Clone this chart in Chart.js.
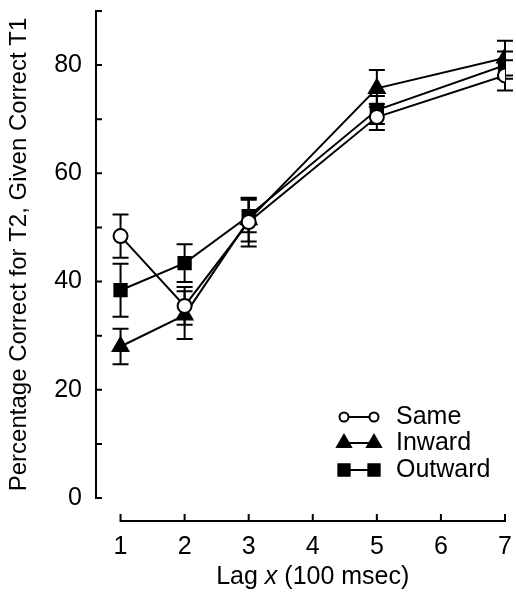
<!DOCTYPE html>
<html lang="en">
<head>
    <meta charset="UTF-8">
    <title>Percentage Correct for T2 by Lag</title>
    <script src="https://cdn.jsdelivr.net/npm/chart.js"></script>
    <style>
        html, body { margin: 0; padding: 0; background: #fff; }
        #wrap { width: 516px; height: 596px; }
    </style>
</head>
<body>
    <div id="wrap"><canvas id="myChart" width="516" height="596"></canvas></div>
    <script>
        // data
        const lags = [1, 2, 3, 5, 7];
        const sameVals = [48.4, 35.5, 51.0, 70.4, 78.1];
        const sameErr = [4.0, 3.5, 4.5, 2.4, 2.8];
        const inwardVals = [28.0, 33.8, 51.4, 75.7, 81.3];
        const inwardErr = [3.3, 4.4, 4.0, 3.4, 3.2];
        const outwardVals = [38.4, 43.4, 52.1, 71.7, 80.0];
        const outwardErr = [4.9, 3.5, 3.0, 2.6, 2.5];
        const seriesNames = ['Same', 'Inward', 'Outward'];

        const xTicks = [1, 2, 3, 4, 5, 6, 7];
        const yTicks = [0, 20, 40, 60, 80];
        const yMinorTicks = [0, 10, 20, 30, 40, 50, 60, 70, 80, 90];
        const yTop = 90;

        const FONT = '"Liberation Sans", Arial, Helvetica, sans-serif';
        const FSIZE = 25;

        function pts(vals) {
            return vals.map((v, i) => ({ x: lags[i], y: v }));
        }

        function ds(label, vals, errs, style, radius, fill) {
            return {
                label: label,
                data: pts(vals),
                errors: errs,
                borderColor: '#000',
                borderWidth: 2,
                pointStyle: style,
                pointRadius: radius,
                pointHoverRadius: radius,
                pointBackgroundColor: fill,
                pointBorderColor: '#000',
                pointBorderWidth: 2,
                tension: 0
            };
        }

        function noPad(s) {
            s.paddingLeft = 0; s.paddingRight = 0;
            s.paddingTop = 0; s.paddingBottom = 0;
        }

        // error bars, under the lines
        const errorBars = {
            id: 'errorBars',
            beforeDatasetsDraw(chart) {
                const ctx = chart.ctx;
                const xs = chart.scales.x, ys = chart.scales.y;
                ctx.save();
                ctx.strokeStyle = '#000';
                ctx.lineWidth = 2;
                chart.data.datasets.forEach(d => {
                    d.data.forEach((p, i) => {
                        const x = xs.getPixelForValue(p.x);
                        const hi = ys.getPixelForValue(p.y + d.errors[i]);
                        const lo = ys.getPixelForValue(p.y - d.errors[i]);
                        ctx.beginPath();
                        ctx.moveTo(x, hi); ctx.lineTo(x, lo);
                        ctx.moveTo(x - 8, hi); ctx.lineTo(x + 8, hi);
                        ctx.moveTo(x - 8, lo); ctx.lineTo(x + 8, lo);
                        ctx.stroke();
                    });
                });
                ctx.restore();
            }
        };

        // detached axes with inward ticks, titles and legend
        const frame = {
            id: 'frame',
            afterDraw(chart) {
                const ctx = chart.ctx;
                const xs = chart.scales.x, ys = chart.scales.y;
                const ax = chart.chartArea.left;
                const ay = chart.chartArea.bottom;
                ctx.save();
                ctx.strokeStyle = '#000';
                ctx.lineWidth = 2;
                ctx.lineCap = 'square';

                // y axis
                ctx.beginPath();
                ctx.moveTo(ax, ys.getPixelForValue(yTop));
                ctx.lineTo(ax, ys.getPixelForValue(0));
                yMinorTicks.forEach(v => {
                    const y = ys.getPixelForValue(v);
                    ctx.moveTo(ax, y); ctx.lineTo(ax + 5, y);
                });
                ctx.stroke();

                // x axis
                const x0 = xs.getPixelForValue(xTicks[0]);
                const x1 = xs.getPixelForValue(xTicks[xTicks.length - 1]);
                ctx.beginPath();
                ctx.moveTo(x0, ay); ctx.lineTo(x1, ay);
                xTicks.forEach(v => {
                    const x = xs.getPixelForValue(v);
                    ctx.moveTo(x, ay); ctx.lineTo(x, ay - 6);
                });
                ctx.stroke();

                ctx.fillStyle = '#000';
                ctx.textBaseline = 'middle';

                // x title with italic x
                const parts = [['Lag ', ''], ['x', 'italic '], [' (100 msec)', '']];
                let total = 0;
                parts.forEach(p => { ctx.font = p[1] + FSIZE + 'px ' + FONT; total += ctx.measureText(p[0]).width; });
                let tx = (x0 + x1) / 2 - total / 2;
                ctx.textAlign = 'left';
                parts.forEach(p => {
                    ctx.font = p[1] + FSIZE + 'px ' + FONT;
                    ctx.fillText(p[0], tx, 577);
                    tx += ctx.measureText(p[0]).width;
                });

                // y title
                ctx.save();
                ctx.translate(19, (ys.getPixelForValue(0) + ys.getPixelForValue(yTop)) / 2);
                ctx.rotate(-Math.PI / 2);
                ctx.textAlign = 'center';
                ctx.font = '24px ' + FONT;
                ctx.fillText('Percentage Correct for T2, Given Correct T1', 0, 0);
                ctx.restore();

                // legend
                const rows = [417, 443, 470];
                const legR = [4.5, 8, 8];
                chart.data.datasets.forEach((d, i) => {
                    const y = rows[i];
                    ctx.beginPath();
                    ctx.moveTo(344, y); ctx.lineTo(374, y);
                    ctx.stroke();
                    [344, 374].forEach(x => {
                        ctx.fillStyle = d.pointBackgroundColor;
                        ctx.strokeStyle = '#000';
                        Chart.helpers.drawPoint(ctx, {
                            pointStyle: d.pointStyle, radius: legR[i], rotation: 0, borderWidth: 2
                        }, x, y);
                    });
                    ctx.fillStyle = '#000';
                    ctx.font = FSIZE + 'px ' + FONT;
                    ctx.textAlign = 'left';
                    ctx.fillText(d.label, 396, y);
                });
                ctx.restore();
            }
        };

        document.addEventListener('DOMContentLoaded', () => {
            const ctx = document.getElementById('myChart').getContext('2d');
            new Chart(ctx, {
                type: 'line',
                data: {
                    datasets: [
                        ds(seriesNames[0], sameVals, sameErr, 'circle', 7, '#fff'),
                        ds(seriesNames[1], inwardVals, inwardErr, 'triangle', 9, '#000'),
                        ds(seriesNames[2], outwardVals, outwardErr, 'rect', 8.7, '#000')
                    ]
                },
                options: {
                    responsive: false,
                    animation: false,
                    events: [],
                    layout: { padding: { left: 0, right: 8, top: 11, bottom: 0 } },
                    plugins: { legend: { display: false }, tooltip: { enabled: false } },
                    scales: {
                        x: {
                            type: 'linear',
                            min: 0.617,
                            max: 7,
                            afterBuildTicks: s => { s.ticks = xTicks.map(v => ({ value: v })); },
                            afterFit: s => { s.height = 75; noPad(s); },
                            grid: { display: false, drawTicks: false },
                            border: { display: false },
                            ticks: {
                                color: '#000',
                                padding: 11,
                                maxRotation: 0,
                                font: { family: FONT, size: FSIZE }
                            }
                        },
                        y: {
                            min: -4.25,
                            max: yTop,
                            afterBuildTicks: s => { s.ticks = yTicks.map(v => ({ value: v })); },
                            afterFit: s => { s.width = 96; noPad(s); },
                            grid: { display: false, drawTicks: false },
                            border: { display: false },
                            ticks: {
                                color: '#000',
                                padding: 14,
                                font: { family: FONT, size: FSIZE }
                            }
                        }
                    }
                },
                plugins: [errorBars, frame]
            });
        });
    </script>
</body>
</html>
